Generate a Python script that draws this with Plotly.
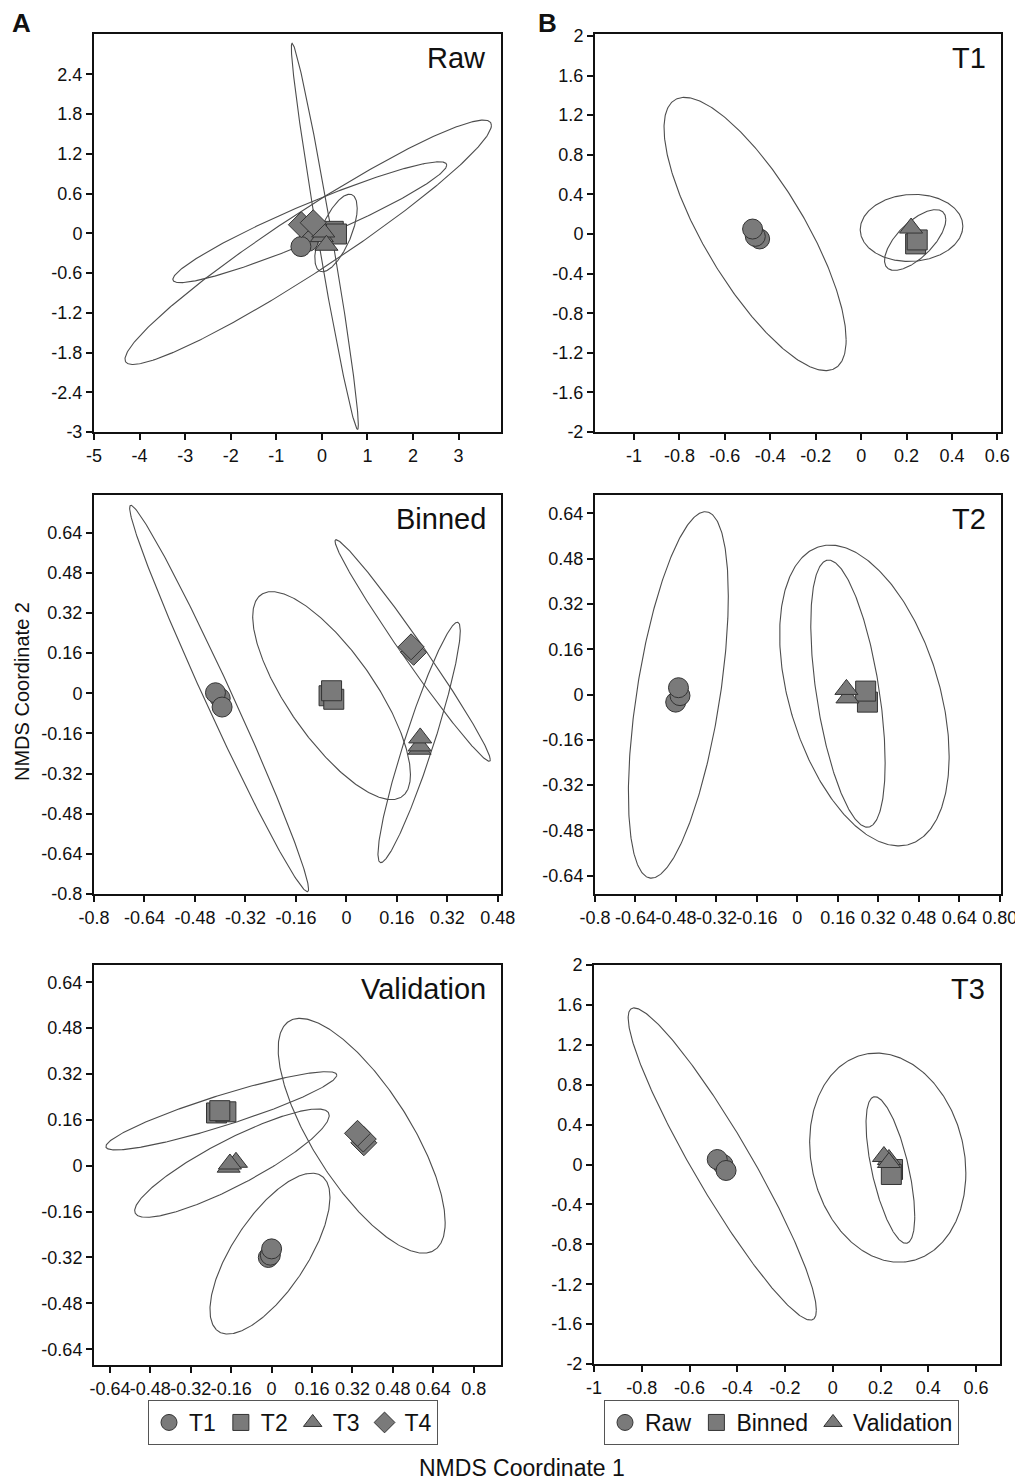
import numpy as np
import plotly.graph_objects as go

W, H = 1023, 1482
OFF = 8  # page body margin offset

# ---------------- DATA ----------------
# Panel A - Raw
raw_groups = ["T1", "T2", "T3", "T4"]
raw_x = [[-0.30, -0.46], [0.25, 0.32], [0.00, 0.03, 0.10], [-0.45, -0.19]]
raw_y = [[-0.12, -0.20], [0.03, -0.01], [-0.05, 0.02, -0.18], [0.13, 0.16]]
raw_ell_cx = [-0.30, -0.265, 0.065, 0.31]
raw_ell_cy = [-0.135, 0.1675, -0.045, 0.005]
raw_ell_rx = [4.02, 3.005, 0.735, 0.465]
raw_ell_ry = [1.845, 0.9125, 2.915, 0.585]
raw_ell_rho = [0.957, 0.945, -0.976, 0.64]

# Panel A - Binned
bin_groups = ["T1", "T2", "T3", "T4"]
bin_x = [[-0.40, -0.415, -0.394], [-0.055, -0.04, -0.047], [0.232, 0.232, 0.234], [0.213, 0.205]]
bin_y = [[-0.02, 0.002, -0.055], [-0.01, -0.024, 0.01], [-0.223, -0.21, -0.178], [0.163, 0.185]]
bin_ell_cx = [-0.4035, -0.047, 0.21, 0.2305]
bin_ell_cy = [-0.021, -0.0095, 0.1705, -0.196]
bin_ell_rx = [0.2835, 0.25, 0.246, 0.1305]
bin_ell_ry = [0.77, 0.4145, 0.4415, 0.479]
bin_ell_rho = [-0.986, -0.759, -0.986, 0.929]

# Panel A - Validation
val_groups = ["T1", "T2", "T3", "T4"]
val_x = [[-0.013, -0.005, 0.0], [-0.218, -0.181, -0.205], [-0.17, -0.141, -0.165], [0.365, 0.363, 0.34]]
val_y = [[-0.32, -0.312, -0.29], [0.184, 0.188, 0.192], [-0.005, 0.012, 0.006], [0.08, 0.093, 0.113]]
val_ell_cx = [-0.199, -0.157, -0.0065, 0.3565]
val_ell_cy = [0.1915, 0.009, -0.3065, 0.1045]
val_ell_rx = [0.457, 0.385, 0.2375, 0.3305]
val_ell_ry = [0.1365, 0.189, 0.2805, 0.4095]
val_ell_rho = [0.912, 0.878, 0.70, -0.739]

# Panel B - T1
t1_groups = ["Raw", "Binned", "Validation"]
t1_x = [[-0.447, -0.466, -0.478], [0.24, 0.247], [0.22]]
t1_y = [[-0.05, -0.024, 0.05], [-0.10, -0.06], [0.06]]
t1_ell_cx = [-0.467, 0.222, 0.238]
t1_ell_cy = [0.0, 0.0615, -0.061]
t1_ell_rx = [0.401, 0.226, 0.135]
t1_ell_ry = [1.38, 0.3385, 0.307]
t1_ell_rho = [-0.775, 0.05, 0.67]

# Panel B - T2
t2_groups = ["Raw", "Binned", "Validation"]
t2_x = [[-0.481, -0.464, -0.47], [0.277, 0.27], [0.198, 0.194]]
t2_y = [[-0.027, -0.004, 0.024], [-0.027, 0.012], [-0.012, 0.018]]
t2_ell_cx = [-0.4705, 0.265, 0.20]
t2_ell_cy = [-0.0015, -0.0035, 0.003]
t2_ell_rx = [0.1975, 0.335, 0.147]
t2_ell_ry = [0.6475, 0.5315, 0.472]
t2_ell_rho = [0.54, -0.404, -0.519]

# Panel B - T3
t3_groups = ["Raw", "Binned", "Validation"]
t3_x = [[-0.46, -0.484, -0.447], [0.25, 0.245], [0.235, 0.214, 0.235]]
t3_y = [[0.0, 0.05, -0.06], [-0.05, -0.10], [0.05, 0.08, 0.02]]
t3_ell_cx = [-0.463, 0.23, 0.241]
t3_ell_cy = [0.005, 0.0685, -0.055]
t3_ell_rx = [0.394, 0.327, 0.102]
t3_ell_ry = [1.565, 1.0485, 0.735]
t3_ell_rho = [-0.936, -0.146, -0.633]

# Tick values / labels
raw_xticks = [-5, -4, -3, -2, -1, 0, 1, 2, 3]
raw_xlabels = ["-5", "-4", "-3", "-2", "-1", "0", "1", "2", "3"]
raw_yticks = [-3, -2.4, -1.8, -1.2, -0.6, 0, 0.6, 1.2, 1.8, 2.4]
raw_ylabels = ["-3", "-2.4", "-1.8", "-1.2", "-0.6", "0", "0.6", "1.2", "1.8", "2.4"]

bin_xticks = [-0.8, -0.64, -0.48, -0.32, -0.16, 0, 0.16, 0.32, 0.48]
bin_xlabels = ["-0.8", "-0.64", "-0.48", "-0.32", "-0.16", "0", "0.16", "0.32", "0.48"]
bin_yticks = [-0.8, -0.64, -0.48, -0.32, -0.16, 0, 0.16, 0.32, 0.48, 0.64]
bin_ylabels = ["-0.8", "-0.64", "-0.48", "-0.32", "-0.16", "0", "0.16", "0.32", "0.48", "0.64"]

val_xticks = [-0.64, -0.48, -0.32, -0.16, 0, 0.16, 0.32, 0.48, 0.64, 0.8]
val_xlabels = ["-0.64", "-0.48", "-0.32", "-0.16", "0", "0.16", "0.32", "0.48", "0.64", "0.8"]
val_yticks = [-0.64, -0.48, -0.32, -0.16, 0, 0.16, 0.32, 0.48, 0.64]
val_ylabels = ["-0.64", "-0.48", "-0.32", "-0.16", "0", "0.16", "0.32", "0.48", "0.64"]

t1_xticks = [-1, -0.8, -0.6, -0.4, -0.2, 0, 0.2, 0.4, 0.6]
t1_xlabels = ["-1", "-0.8", "-0.6", "-0.4", "-0.2", "0", "0.2", "0.4", "0.6"]
t1_yticks = [-2, -1.6, -1.2, -0.8, -0.4, 0, 0.4, 0.8, 1.2, 1.6, 2]
t1_ylabels = ["-2", "-1.6", "-1.2", "-0.8", "-0.4", "0", "0.4", "0.8", "1.2", "1.6", "2"]

t2_xticks = [-0.8, -0.64, -0.48, -0.32, -0.16, 0, 0.16, 0.32, 0.48, 0.64, 0.8]
t2_xlabels = ["-0.8", "-0.64", "-0.48", "-0.32", "-0.16", "0", "0.16", "0.32", "0.48", "0.64", "0.80"]
t2_yticks = [-0.64, -0.48, -0.32, -0.16, 0, 0.16, 0.32, 0.48, 0.64]
t2_ylabels = ["-0.64", "-0.48", "-0.32", "-0.16", "0", "0.16", "0.32", "0.48", "0.64"]

t3_xticks = t1_xticks
t3_xlabels = t1_xlabels
t3_yticks = t1_yticks
t3_ylabels = t1_ylabels

# ---------------- FIGURE ----------------
FONT = "Liberation Sans, Arial, sans-serif"
FILL = "#7a7a7a"
EDGE = "#333333"
ELL = "#4d4d4d"
TXT = "#111111"

symA = {"T1": "circle", "T2": "square", "T3": "triangle-up", "T4": "diamond"}
symB = {"Raw": "circle", "Binned": "square", "Validation": "triangle-up"}

fig = go.Figure()


def px(xr):
    return (xr - OFF) / W


def py(yr):
    return 1 - (yr - OFF) / H


def xdom(a, b):
    return [px(a), px(b)]


def ydom(top, bot):
    return [py(bot), py(top)]


panels = [
    dict(title="Raw", ax="", xd=(94, 501), yd=(34, 432), xr=[-5, 3.93], yr=[-3, 3.01],
         xt=raw_xticks, xl=raw_xlabels, yt=raw_yticks, yl=raw_ylabels,
         groups=raw_groups, gx=raw_x, gy=raw_y, sym=symA, legend="legend",
         ell=(raw_ell_cx, raw_ell_cy, raw_ell_rx, raw_ell_ry, raw_ell_rho)),
    dict(title="T1", ax="2", xd=(595, 1001), yd=(34, 432), xr=[-1.172, 0.616], yr=[-2, 2.02],
         xt=t1_xticks, xl=t1_xlabels, yt=t1_yticks, yl=t1_ylabels,
         groups=t1_groups, gx=t1_x, gy=t1_y, sym=symB, legend="legend2",
         ell=(t1_ell_cx, t1_ell_cy, t1_ell_rx, t1_ell_ry, t1_ell_rho)),
    dict(title="Binned", ax="3", xd=(94, 501), yd=(495, 894), xr=[-0.8, 0.49], yr=[-0.8, 0.79],
         xt=bin_xticks, xl=bin_xlabels, yt=bin_yticks, yl=bin_ylabels,
         groups=bin_groups, gx=bin_x, gy=bin_y, sym=symA, legend=None,
         ell=(bin_ell_cx, bin_ell_cy, bin_ell_rx, bin_ell_ry, bin_ell_rho)),
    dict(title="T2", ax="4", xd=(595, 1001), yd=(495, 894), xr=[-0.8, 0.805], yr=[-0.705, 0.705],
         xt=t2_xticks, xl=t2_xlabels, yt=t2_yticks, yl=t2_ylabels,
         groups=t2_groups, gx=t2_x, gy=t2_y, sym=symB, legend=None,
         ell=(t2_ell_cx, t2_ell_cy, t2_ell_rx, t2_ell_ry, t2_ell_rho)),
    dict(title="Validation", ax="5", xd=(94, 501), yd=(965, 1365), xr=[-0.703, 0.908], yr=[-0.695, 0.70],
         xt=val_xticks, xl=val_xlabels, yt=val_yticks, yl=val_ylabels,
         groups=val_groups, gx=val_x, gy=val_y, sym=symA, legend=None,
         ell=(val_ell_cx, val_ell_cy, val_ell_rx, val_ell_ry, val_ell_rho)),
    dict(title="T3", ax="6", xd=(594, 1000), yd=(965, 1364), xr=[-1.0, 0.70], yr=[-2, 2.0],
         xt=t3_xticks, xl=t3_xlabels, yt=t3_yticks, yl=t3_ylabels,
         groups=t3_groups, gx=t3_x, gy=t3_y, sym=symB, legend=None,
         ell=(t3_ell_cx, t3_ell_cy, t3_ell_rx, t3_ell_ry, t3_ell_rho)),
]

t = np.linspace(0, 2 * np.pi, 361)
axis_common = dict(showgrid=False, zeroline=False, showline=True, mirror=True,
                   linecolor=TXT, linewidth=2, ticks="outside", ticklen=6,
                   tickwidth=1.5, tickcolor=TXT, tickangle=0, automargin=False,
                   tickfont=dict(family=FONT, size=18, color=TXT), tickmode="array",
                   fixedrange=True)

for p in panels:
    xa = "x" + p["ax"]
    ya = "y" + p["ax"]
    cx, cy, rx, ry, rho = p["ell"]
    for i in range(len(cx)):
        phi = np.arccos(rho[i])
        ex = cx[i] + rx[i] * np.cos(t)
        ey = cy[i] + ry[i] * np.cos(t - phi)
        fig.add_trace(go.Scatter(x=ex, y=ey, mode="lines", xaxis=xa, yaxis=ya,
                                 line=dict(color=ELL, width=1.1), showlegend=False,
                                 hoverinfo="skip"))
    for g, gxs, gys in zip(p["groups"], p["gx"], p["gy"]):
        show = p["legend"] is not None
        kw = dict(legend=p["legend"]) if show else {}
        fig.add_trace(go.Scatter(x=gxs, y=gys, mode="markers", xaxis=xa, yaxis=ya,
                                 name=g, showlegend=show,
                                 marker=dict(symbol=p["sym"][g], size=20, color=FILL,
                                             line=dict(color=EDGE, width=1)), **kw))
    lay_x = dict(axis_common, domain=xdom(*p["xd"]), range=p["xr"], tickvals=p["xt"],
                 ticktext=p["xl"], anchor=ya)
    lay_y = dict(axis_common, domain=ydom(*p["yd"]), range=p["yr"], tickvals=p["yt"],
                 ticktext=p["yl"], anchor=xa)
    fig.layout["xaxis" + p["ax"]] = lay_x
    fig.layout["yaxis" + p["ax"]] = lay_y
    fig.add_annotation(text=p["title"], xref="paper", yref="paper",
                       x=px(p["xd"][1] - 13), y=py(p["yd"][0] + 6),
                       xanchor="right", yanchor="top", showarrow=False,
                       font=dict(family=FONT, size=29, color=TXT))

# Panel letters
fig.add_annotation(text="<b>A</b>", xref="paper", yref="paper", x=px(10), y=py(6),
                   xanchor="left", yanchor="top", showarrow=False,
                   font=dict(family=FONT, size=26, color=TXT))
fig.add_annotation(text="<b>B</b>", xref="paper", yref="paper", x=px(536), y=py(6),
                   xanchor="left", yanchor="top", showarrow=False,
                   font=dict(family=FONT, size=26, color=TXT))

# Axis titles
fig.add_annotation(text="NMDS Coordinate 2", xref="paper", yref="paper", x=px(22), y=py(692),
                   textangle=-90, showarrow=False, xanchor="center", yanchor="middle",
                   font=dict(family=FONT, size=20, color=TXT))
fig.add_annotation(text="NMDS Coordinate 1", xref="paper", yref="paper", x=px(522), y=py(1468),
                   showarrow=False, xanchor="center", yanchor="middle",
                   font=dict(family=FONT, size=23, color=TXT))

legend_common = dict(orientation="h", bordercolor="#555555", borderwidth=1, bgcolor="white",
                     font=dict(family=FONT, size=23, color=TXT), yanchor="top",
                     xanchor="left", itemsizing="trace")

fig.update_layout(
    template="none",
    width=W, height=H, margin=dict(l=0, r=0, t=0, b=0),
    plot_bgcolor="white", paper_bgcolor="white",
    font=dict(family=FONT, color=TXT),
    legend=dict(legend_common, x=px(148), y=py(1400)),
    legend2=dict(legend_common, x=px(604), y=py(1400)),
)

fig.write_html("out.html")
